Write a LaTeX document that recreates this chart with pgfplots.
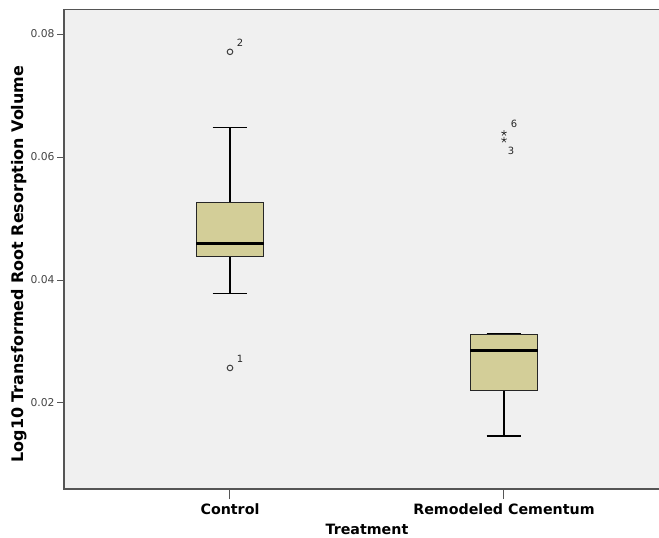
\documentclass[border=0pt]{standalone}
\usepackage{pgfplots}
\pgfplotsset{compat=1.18}
\usepgfplotslibrary{statistics}
\usepackage{fontspec}
\setmainfont{DejaVu Sans}
\definecolor{boxfill}{HTML}{D3CE98}
\definecolor{bg}{HTML}{F0F0F0}
\definecolor{axisgray}{HTML}{555555}
\definecolor{ticklab}{HTML}{444444}
\begin{document}
\begin{tikzpicture}
\path[use as bounding box] (-64bp,-49bp) rectangle (595bp,489bp);
\begin{axis}[at={(0,0)}, anchor=south west, scale only axis,
  width=597bp, height=479.5bp,
  xmin=0.3942, xmax=2.573, ymin=0.006016, ymax=0.083984,
  axis background/.style={fill=bg},
  axis line style={axisgray, line width=1.2bp},
  boxplot/draw direction=y,
  tick align=outside,
  xtick={1,2}, xticklabels={Control, Remodeled Cementum},
  ytick={0.02,0.04,0.06,0.08},
  minor tick num=0,
  xtick pos=bottom, ytick pos=left,
  xtick style={axisgray, line width=1bp, /pgfplots/major tick length=10bp},
  ytick style={axisgray, line width=1bp, /pgfplots/major tick length=7bp},
  yticklabel style={/pgf/number format/.cd, fixed, fixed zerofill, precision=2, assume math mode=true, /tikz/.cd,
    font=\fontsize{10.8}{12}\selectfont, text=ticklab, anchor=east, inner sep=0pt, xshift=-5bp},
  xticklabel style={font=\bfseries\fontsize{14.3}{16}\selectfont, text=black, inner sep=0pt, yshift=-10bp},
  scaled y ticks=false,
  xlabel={Treatment},
  ylabel={Log10 Transformed Root Resorption Volume},
  xlabel style={font=\bfseries\fontsize{14.3}{16}\selectfont, at={(axis description cs:0.5075,0)}, anchor=base, yshift=-45bp},
  ylabel style={font=\bfseries\fontsize{16}{18}\selectfont, at={(axis description cs:-0.0755,0.469)}, anchor=center},
  clip=false,
]
\addplot[draw=black, line width=1bp,
  boxplot prepared={draw position=1, lower whisker=0.0378, lower quartile=0.0439,
    median=0.0460, upper quartile=0.0526, upper whisker=0.0648,
    box extend=0.248, whisker extend=0.127,
    every box/.style={draw=black!85, fill=boxfill, line width=1bp},
    every median/.style={black, line width=2.8bp},
    every whisker/.style={black, line width=1.5bp}}] coordinates {};
\addplot[draw=black, line width=1bp,
  boxplot prepared={draw position=2, lower whisker=0.0146, lower quartile=0.0221,
    median=0.0285, upper quartile=0.0312, upper whisker=0.0312,
    box extend=0.248, whisker extend=0.127,
    every box/.style={draw=black!85, fill=boxfill, line width=1bp},
    every median/.style={black, line width=2.8bp},
    every whisker/.style={black, line width=1.5bp}}] coordinates {};
% outliers
\addplot[only marks, mark=o, mark size=2.8bp, mark options={draw=black!75, line width=1bp},
  nodes near coords, point meta=explicit symbolic,
  nodes near coords style={font=\fontsize{10}{12}\selectfont, text=black!85, anchor=center, xshift=10bp, yshift=9bp}]
  table[meta=lab] {
x y lab
1 0.0771 2
1 0.0257 1
};
% extremes
\addplot[only marks, mark=star, mark size=3bp, mark options={draw=black!80, line width=0.7bp},
  nodes near coords, point meta=explicit symbolic,
  nodes near coords style={font=\fontsize{10}{12}\selectfont, text=black!85, anchor=center, xshift=10bp, yshift=9bp}]
  table[meta=lab] {
x y lab
2 0.0639 6
};
\addplot[only marks, mark=star, mark size=3bp, mark options={draw=black!80, line width=0.7bp},
  nodes near coords, point meta=explicit symbolic,
  nodes near coords style={font=\fontsize{10}{12}\selectfont, text=black!85, anchor=center, xshift=7bp, yshift=-11bp}]
  table[meta=lab] {
x y lab
2 0.0628 3
};
\end{axis}
\end{tikzpicture}
\end{document}
